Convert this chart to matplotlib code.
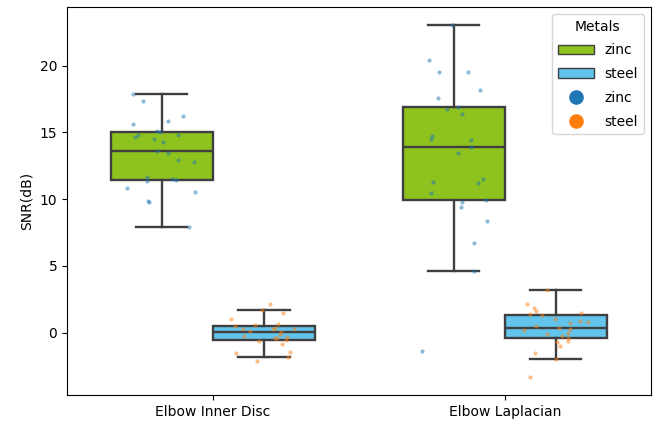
import numpy as np
import matplotlib
matplotlib.use("agg")
import matplotlib.pyplot as plt
from matplotlib.patches import Patch
from matplotlib.lines import Line2D

# categories and hue levels
groups = ["Elbow Inner Disc", "Elbow Laplacian"]
metals = ["zinc", "steel"]

# SNR values (dB), 25 samples per box
inner_zinc = [17.85, 17.35, 16.2, 15.85, 15.6, 15.1, 15.0, 14.8, 14.8, 14.65,
              14.5, 14.3, 13.6, 13.45, 12.95, 12.8, 11.65, 11.5, 11.42, 11.38,
              10.85, 10.5, 9.85, 9.8, 7.9]
inner_steel = [2.12, 1.7, 1.47, 1.05, 0.65, 0.57, 0.52, 0.35, 0.27, 0.27,
               0.27, 0.12, 0.05, -0.13, -0.23, -0.35, -0.38, -0.4, -0.52, -0.63,
               -0.83, -1.48, -1.53, -1.85, -2.13]
lap_zinc = [23.05, 20.43, 19.55, 19.5, 18.18, 17.55, 16.9, 16.75, 16.35, 14.75,
            14.52, 14.43, 13.92, 13.47, 11.52, 11.3, 11.2, 10.47, 9.92, 9.75,
            9.4, 8.33, 6.72, 4.65, -1.35]
lap_steel = [3.2, 2.17, 1.82, 1.65, 1.45, 1.4, 1.32, 1.0, 0.85, 0.8,
             0.7, 0.47, 0.32, 0.25, 0.2, -0.05, -0.1, -0.23, -0.38, -0.63,
             -0.7, -1.03, -1.5, -1.98, -3.35]

data = {("Elbow Inner Disc", "zinc"): inner_zinc,
        ("Elbow Inner Disc", "steel"): inner_steel,
        ("Elbow Laplacian", "zinc"): lap_zinc,
        ("Elbow Laplacian", "steel"): lap_steel}

box_colors = {"zinc": "#8dc21f", "steel": "#62c4ea"}
dot_colors = {"zinc": "#1f77b4", "steel": "#ff7f0e"}
edge = "#3f3f3f"

fig = plt.figure(figsize=(6.56, 4.22), dpi=100)
ax = fig.add_axes([0.102, 0.064, 0.890, 0.919])

width = 0.35
offsets = {"zinc": -0.175, "steel": 0.175}
rng = np.random.default_rng(3)
lw = 1.7

for gi, g in enumerate(groups):
    for m in metals:
        vals = data[(g, m)]
        pos = gi + offsets[m]
        ax.boxplot([vals], positions=[pos], widths=width, patch_artist=True,
                   showfliers=False, manage_ticks=False,
                   boxprops=dict(facecolor=box_colors[m], edgecolor=edge, linewidth=lw),
                   medianprops=dict(color=edge, linewidth=lw),
                   whiskerprops=dict(color=edge, linewidth=lw),
                   capprops=dict(color=edge, linewidth=lw))
        jit = rng.uniform(-0.12, 0.12, len(vals))
        ax.scatter(pos + jit, vals, s=9, color=dot_colors[m], alpha=0.5,
                   linewidths=0, zorder=5)

ax.set_xlim(-0.5, 1.5)
ax.set_xticks([0, 1])
ax.set_xticklabels(groups, fontsize=10)
ax.set_ylabel("SNR(dB)", fontsize=10)
ax.set_yticks([0, 5, 10, 15, 20])
ax.tick_params(labelsize=10)
ax.margins(y=0.05)

handles = [Patch(facecolor=box_colors["zinc"], edgecolor=edge, label="zinc"),
           Patch(facecolor=box_colors["steel"], edgecolor=edge, label="steel"),
           Line2D([], [], marker="o", linestyle="", color=dot_colors["zinc"],
                  markersize=9.5, label="zinc"),
           Line2D([], [], marker="o", linestyle="", color=dot_colors["steel"],
                  markersize=9.5, label="steel")]
ax.legend(handles=handles, title="Metals", loc="upper right", fontsize=10,
          title_fontsize=10, handlelength=2.6, labelspacing=0.7)

fig.savefig("out.png", dpi=100)
